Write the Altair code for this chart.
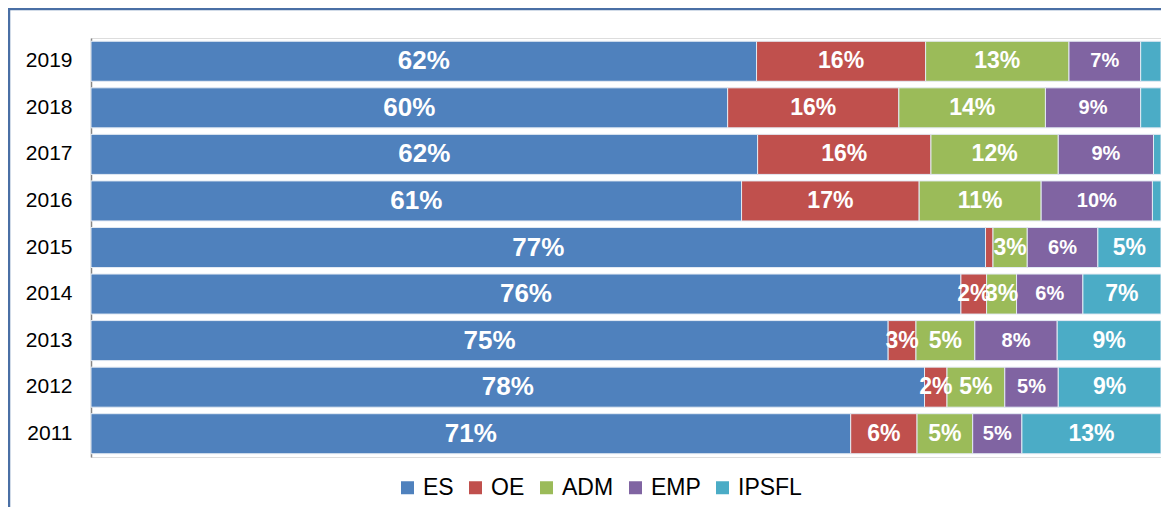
import altair as alt
import pandas as pd

years = ["2019", "2018", "2017", "2016", "2015", "2014", "2013", "2012", "2011"]
series = ["ES", "OE", "ADM", "EMP", "IPSFL"]
colors = ["#4F81BD", "#C0504D", "#9BBB59", "#8064A2", "#4BACC6"]

# bar widths (share of each row, %) as drawn
es_vals = [62.2, 59.5, 62.3, 60.8, 83.6, 81.3, 74.5, 77.9, 71.0]
oe_vals = [15.8, 16.0, 16.2, 16.6, 0.7, 2.4, 2.6, 2.1, 6.2]
adm_vals = [13.4, 13.7, 11.9, 11.4, 3.2, 2.8, 5.5, 5.4, 5.2]
emp_vals = [6.7, 8.9, 8.9, 10.4, 6.6, 6.2, 7.7, 5.0, 4.6]
ipsfl_vals = [1.9, 1.9, 0.7, 0.8, 5.9, 7.3, 9.7, 9.6, 13.0]

# data labels as printed on the bars
es_lbl = ["62%", "60%", "62%", "61%", "77%", "76%", "75%", "78%", "71%"]
oe_lbl = ["16%", "16%", "16%", "17%", "", "2%", "3%", "2%", "6%"]
adm_lbl = ["13%", "14%", "12%", "11%", "3%", "3%", "5%", "5%", "5%"]
emp_lbl = ["7%", "9%", "9%", "10%", "6%", "6%", "8%", "5%", "5%"]
ipsfl_lbl = ["", "", "", "", "5%", "7%", "9%", "9%", "13%"]

vals = [es_vals, oe_vals, adm_vals, emp_vals, ipsfl_vals]
lbls = [es_lbl, oe_lbl, adm_lbl, emp_lbl, ipsfl_lbl]

rows = []
for si, s in enumerate(series):
    for yi, y in enumerate(years):
        rows.append({"year": y, "series": s, "order": si,
                     "value": vals[si][yi], "label": lbls[si][yi]})
df = pd.DataFrame(rows)

FONT = "Liberation Sans, Arial, sans-serif"

base = alt.Chart(df).transform_stack(
    stack="value", as_=["x0", "x1"], groupby=["year"],
    sort=[alt.SortField("order", order="ascending")], offset="normalize"
).transform_calculate(mid="(datum.x0 + datum.x1) / 2")

ycol = alt.Y("year:N", sort=years, title=None,
             scale=alt.Scale(paddingInner=0.14, paddingOuter=0.07),
             axis=alt.Axis(labelFontSize=21, labelColor="#000000", labelFont=FONT,
                           labelPadding=19, ticks=False, domainColor="#868686",
                           domainWidth=1.5, grid=False))

bars = base.mark_bar(stroke="#E3EAF3", strokeWidth=1).encode(
    y=ycol,
    x=alt.X("x0:Q", axis=None, scale=alt.Scale(domain=[0, 1], nice=False)),
    x2="x1:Q",
    color=alt.Color("series:N", sort=series,
                    scale=alt.Scale(domain=series, range=colors),
                    legend=alt.Legend(title=None, orient="none", legendX=305, legendY=438,
                                      direction="horizontal", symbolType="square",
                                      symbolSize=169, symbolStrokeWidth=0,
                                      labelFontSize=23, labelFont=FONT,
                                      labelColor="#000000", columnPadding=10,
                                      labelOffset=4)),
)

texts = base.transform_calculate(
    fs="datum.series == 'ES' ? 26 : (datum.series == 'EMP' ? 20 : 23)"
).mark_text(color="white", fontWeight="bold", font=FONT,
            baseline="middle", align="center").encode(
    y=alt.Y("year:N", sort=years),
    x=alt.X("mid:Q"),
    text="label:N",
    size=alt.Size("fs:Q", scale=None),
)

frame = alt.Chart(pd.DataFrame({"k": [0]})).mark_rect(
    fill=None, fillOpacity=0, stroke="#4A6FA5", strokeWidth=2.5
).encode(x=alt.value(-82), x2=alt.value(1200), y=alt.value(-29), y2=alt.value(700))

chart = alt.layer(frame, bars, texts).properties(
    width=1070, height=419,
    autosize=alt.AutoSizeParams(type="none"),
    padding={"left": 83, "top": 30, "right": 0, "bottom": 50},
).configure_view(stroke=None).configure(background="white")

chart.save("out.html", embed_options={"renderer": "svg", "actions": False})
